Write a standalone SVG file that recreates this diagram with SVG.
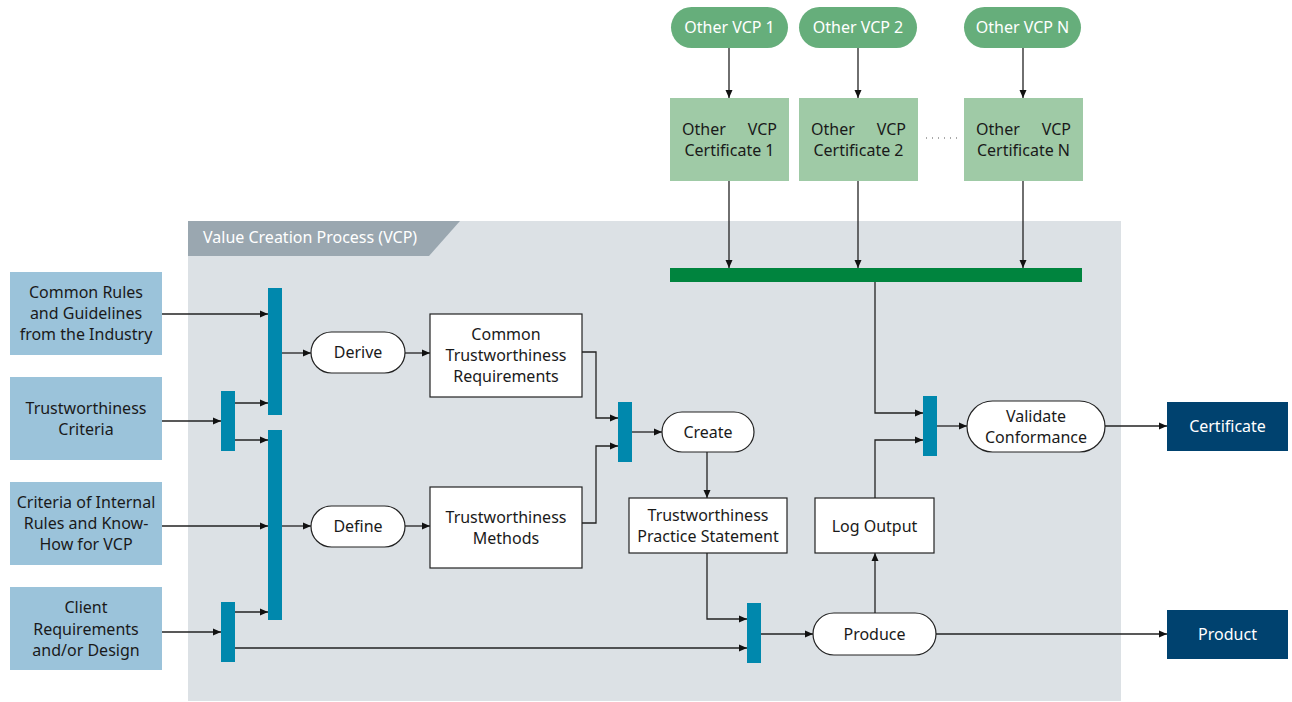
<svg xmlns="http://www.w3.org/2000/svg" width="1292" height="702" viewBox="0 0 1292 702">
  <defs>
    <marker id="ah" viewBox="0 0 8 8" refX="8" refY="4" markerWidth="8" markerHeight="8" markerUnits="userSpaceOnUse" orient="auto">
      <path d="M0,0.5 L8,4 L0,7.5 Z" fill="#111"/>
    </marker>
    <style>
      text { font-family: "Noto Sans", "Open Sans", sans-serif; font-size: 16px; fill: #1a1a1a; text-anchor: middle; }
      .w { fill: #ffffff; }
      .src { fill: #9bc3da; }
      .bar { fill: #0088ad; }
      .box { fill: #ffffff; stroke: #222; stroke-width: 1.2; }
      .pill { fill: #66ae7b; }
      .cert { fill: #9fcaa6; }
      .out { fill: #00426f; }
      .c { fill: none; stroke: #222; stroke-width: 1.3; }
      .a { marker-end: url(#ah); }
    </style>
  </defs>

  <!-- process frame -->
  <g id="vcp-frame">
    <rect x="188" y="221" width="933" height="480" fill="#dce1e5"/>
    <path d="M188,221 H460 L429,256 H188 Z" fill="#9aa7b0"/>
    <text x="203" y="243" class="w" style="text-anchor:start">Value Creation Process (VCP)</text>
  </g>

  <!-- connectors -->
  <g id="connectors">
    <path class="c a" d="M729,48 V98"/>
    <path class="c a" d="M858,48 V98"/>
    <path class="c a" d="M1023,48 V98"/>
    <path class="c a" d="M729,181 V268"/>
    <path class="c a" d="M858,181 V268"/>
    <path class="c a" d="M1023,181 V268"/>
    <path class="c a" d="M162,314 H268"/>
    <path class="c a" d="M162,421 H221"/>
    <path class="c a" d="M235,403 H268"/>
    <path class="c a" d="M235,440 H268"/>
    <path class="c a" d="M162,526 H268"/>
    <path class="c a" d="M235,612 H268"/>
    <path class="c a" d="M162,632 H221"/>
    <path class="c a" d="M235,648 H747"/>
    <path class="c a" d="M282,353 H311"/>
    <path class="c a" d="M282,526 H311"/>
    <path class="c a" d="M405,353 H430"/>
    <path class="c a" d="M405,526 H430"/>
    <path class="c a" d="M582,352 H596 V418 H618"/>
    <path class="c a" d="M582,523 H596 V446 H618"/>
    <path class="c a" d="M632,432 H662"/>
    <path class="c a" d="M707,452 V498"/>
    <path class="c a" d="M707,553 V619 H747"/>
    <path class="c a" d="M761,634 H813"/>
    <path class="c a" d="M936,634 H1167"/>
    <path class="c a" d="M875,613 V553"/>
    <path class="c a" d="M875,498 V440 H923"/>
    <path class="c a" d="M875,282 V413 H923"/>
    <path class="c a" d="M937,426 H967"/>
    <path class="c a" d="M1105,426 H1167"/>
    <path d="M926,138 H958" stroke="#555" stroke-width="1.2" stroke-dasharray="1 5" fill="none"/>
  </g>

  <!-- other processes -->
  <g id="other-vcp-1"><rect x="671" y="7" width="117" height="41" rx="20.5" class="pill"/><text x="729.5" y="33" class="w">Other VCP 1</text></g>
  <g id="other-vcp-2"><rect x="799" y="7" width="118" height="41" rx="20.5" class="pill"/><text x="858" y="33" class="w">Other VCP 2</text></g>
  <g id="other-vcp-n"><rect x="964" y="7" width="117" height="41" rx="20.5" class="pill"/><text x="1022.5" y="33" class="w">Other VCP N</text></g>

  <g id="other-cert-1"><rect x="670" y="98" width="119" height="83" class="cert"/>
    <text x="682" y="135" style="text-anchor:start">Other</text><text x="777" y="135" style="text-anchor:end">VCP</text>
    <text x="729.5" y="156">Certificate 1</text></g>
  <g id="other-cert-2"><rect x="799" y="98" width="119" height="83" class="cert"/>
    <text x="811" y="135" style="text-anchor:start">Other</text><text x="906" y="135" style="text-anchor:end">VCP</text>
    <text x="858.5" y="156">Certificate 2</text></g>
  <g id="other-cert-n"><rect x="964" y="98" width="119" height="83" class="cert"/>
    <text x="976" y="135" style="text-anchor:start">Other</text><text x="1071" y="135" style="text-anchor:end">VCP</text>
    <text x="1023.5" y="156">Certificate N</text></g>

  <g id="cert-join"><rect x="670" y="268" width="412" height="14" fill="#00843e"/></g>

  <!-- inputs -->
  <g id="in-rules"><rect x="10" y="272" width="152" height="83" class="src"/>
    <text x="86" y="298">Common Rules</text><text x="86" y="319">and Guidelines</text><text x="86" y="340">from the Industry</text></g>
  <g id="in-criteria"><rect x="10" y="377" width="152" height="83" class="src"/>
    <text x="86" y="414">Trustworthiness</text><text x="86" y="435">Criteria</text></g>
  <g id="in-internal"><rect x="10" y="482" width="152" height="83" class="src"/>
    <text x="86" y="508">Criteria of Internal</text><text x="86" y="529">Rules and Know-</text><text x="86" y="550">How for VCP</text></g>
  <g id="in-client"><rect x="10" y="587" width="152" height="83" class="src"/>
    <text x="86" y="613">Client</text><text x="86" y="635">Requirements</text><text x="86" y="656">and/or Design</text></g>

  <!-- junction bars -->
  <g id="bar-derive"><rect x="268" y="288" width="14" height="127" class="bar"/></g>
  <g id="bar-criteria"><rect x="221" y="391" width="14" height="60" class="bar"/></g>
  <g id="bar-define"><rect x="268" y="430" width="14" height="190" class="bar"/></g>
  <g id="bar-client"><rect x="221" y="602" width="14" height="60" class="bar"/></g>
  <g id="bar-create"><rect x="618" y="402" width="14" height="60" class="bar"/></g>
  <g id="bar-produce"><rect x="747" y="603" width="14" height="60" class="bar"/></g>
  <g id="bar-validate"><rect x="923" y="396" width="14" height="60" class="bar"/></g>

  <!-- activities and artefacts -->
  <g id="derive"><rect x="311" y="332" width="94" height="41" rx="20.5" class="box"/><text x="358" y="358">Derive</text></g>
  <g id="define"><rect x="311" y="506" width="94" height="41" rx="20.5" class="box"/><text x="358" y="532">Define</text></g>
  <g id="common-req"><rect x="430" y="314" width="152" height="83" class="box"/>
    <text x="506" y="340">Common</text><text x="506" y="361">Trustworthiness</text><text x="506" y="382">Requirements</text></g>
  <g id="methods"><rect x="430" y="487" width="152" height="81" class="box"/>
    <text x="506" y="523">Trustworthiness</text><text x="506" y="544">Methods</text></g>
  <g id="create"><rect x="662" y="412" width="92" height="40" rx="20" class="box"/><text x="708" y="438">Create</text></g>
  <g id="practice"><rect x="629" y="498" width="158" height="55" class="box"/>
    <text x="708" y="521">Trustworthiness</text><text x="708" y="542">Practice Statement</text></g>
  <g id="log-output"><rect x="815" y="498" width="119" height="55" class="box"/><text x="874.5" y="532">Log Output</text></g>
  <g id="produce"><rect x="813" y="613" width="123" height="42" rx="21" class="box"/><text x="874.5" y="640">Produce</text></g>
  <g id="validate"><rect x="967" y="401" width="138" height="51" rx="25.5" class="box"/>
    <text x="1036" y="422">Validate</text><text x="1036" y="443">Conformance</text></g>

  <!-- outputs -->
  <g id="out-certificate"><rect x="1167" y="402" width="121" height="49" class="out"/><text x="1227.5" y="432" class="w">Certificate</text></g>
  <g id="out-product"><rect x="1167" y="610" width="121" height="49" class="out"/><text x="1227.5" y="640" class="w">Product</text></g>
</svg>
